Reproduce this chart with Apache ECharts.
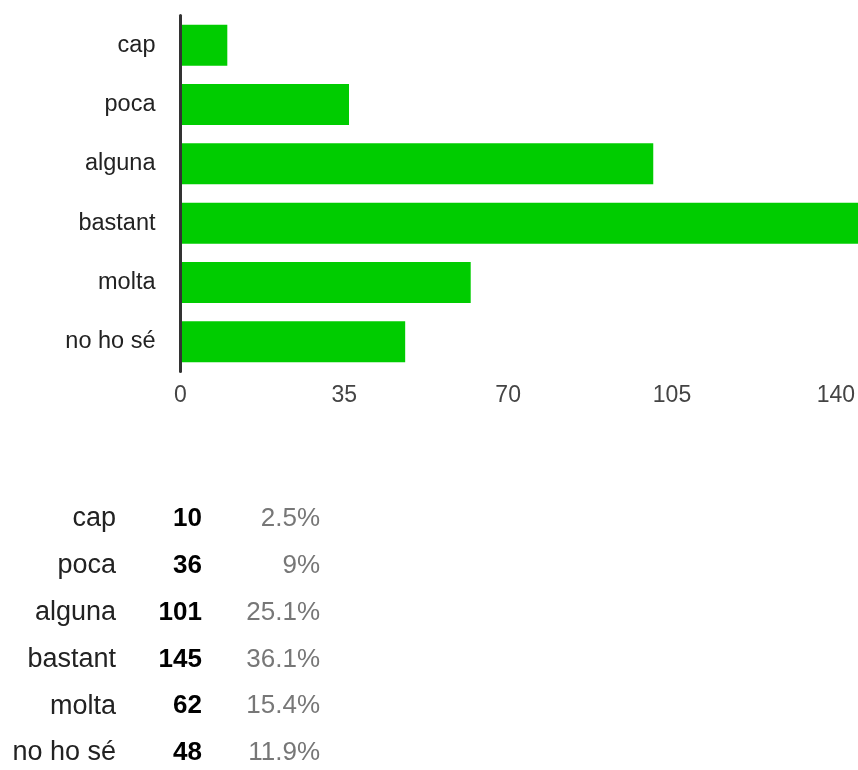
<!DOCTYPE html>
<html>
<head>
<meta charset="utf-8">
<script src="https://cdn.jsdelivr.net/npm/echarts@6/dist/echarts.min.js"></script>
<style>
html,body{margin:0;padding:0;background:#fff;}
#chart{width:858px;height:770px;}
</style>
</head>
<body>
<div id="chart"></div>
<script>
var categories = ['cap', 'poca', 'alguna', 'bastant', 'molta', 'no ho sé'];
var counts = [10, 36, 101, 145, 62, 48];
var percents = ['2.5%', '9%', '25.1%', '36.1%', '15.4%', '11.9%'];
var xTicks = [0, 35, 70, 105, 140];

var FONT = '"Liberation Sans", Arial, sans-serif';

var chart = echarts.init(document.getElementById('chart'), null, {renderer: 'canvas'});

var tableTop = 519;
var rowPitch = 46.8;
var graphics = [];
categories.forEach(function (c, i) {
  var y = tableTop + i * rowPitch;
  graphics.push({
    type: 'text', x: 116, y: y,
    style: {text: c, font: '27px ' + FONT, fill: '#222', align: 'right', verticalAlign: 'middle'}
  });
  graphics.push({
    type: 'text', x: 202, y: y,
    style: {text: String(counts[i]), font: 'bold 26px ' + FONT, fill: '#000', align: 'right', verticalAlign: 'middle'}
  });
  graphics.push({
    type: 'text', x: 320, y: y,
    style: {text: percents[i], font: '26px ' + FONT, fill: '#777', align: 'right', verticalAlign: 'middle'}
  });
});

chart.setOption({
  animation: false,
  backgroundColor: '#fff',
  grid: {left: 180.5, right: 20, top: 15.5, height: 356, containLabel: false},
  xAxis: {
    type: 'value',
    min: xTicks[0],
    max: xTicks[xTicks.length - 1],
    interval: xTicks[1] - xTicks[0],
    axisLine: {show: false},
    axisTick: {show: false},
    splitLine: {show: false},
    axisLabel: {color: '#444', fontSize: 23, fontFamily: FONT, margin: 13}
  },
  yAxis: {
    type: 'category',
    inverse: true,
    data: categories,
    z: 5,
    axisLine: {show: true, lineStyle: {color: '#333', width: 3}},
    axisTick: {show: false},
    axisLabel: {color: '#222', fontSize: 23.5, fontFamily: FONT, margin: 25}
  },
  series: [{
    type: 'bar',
    data: counts,
    clip: false,
    barCategoryGap: '31%',
    itemStyle: {color: '#00cc00'}
  }],
  graphic: graphics
});
</script>
</body>
</html>
